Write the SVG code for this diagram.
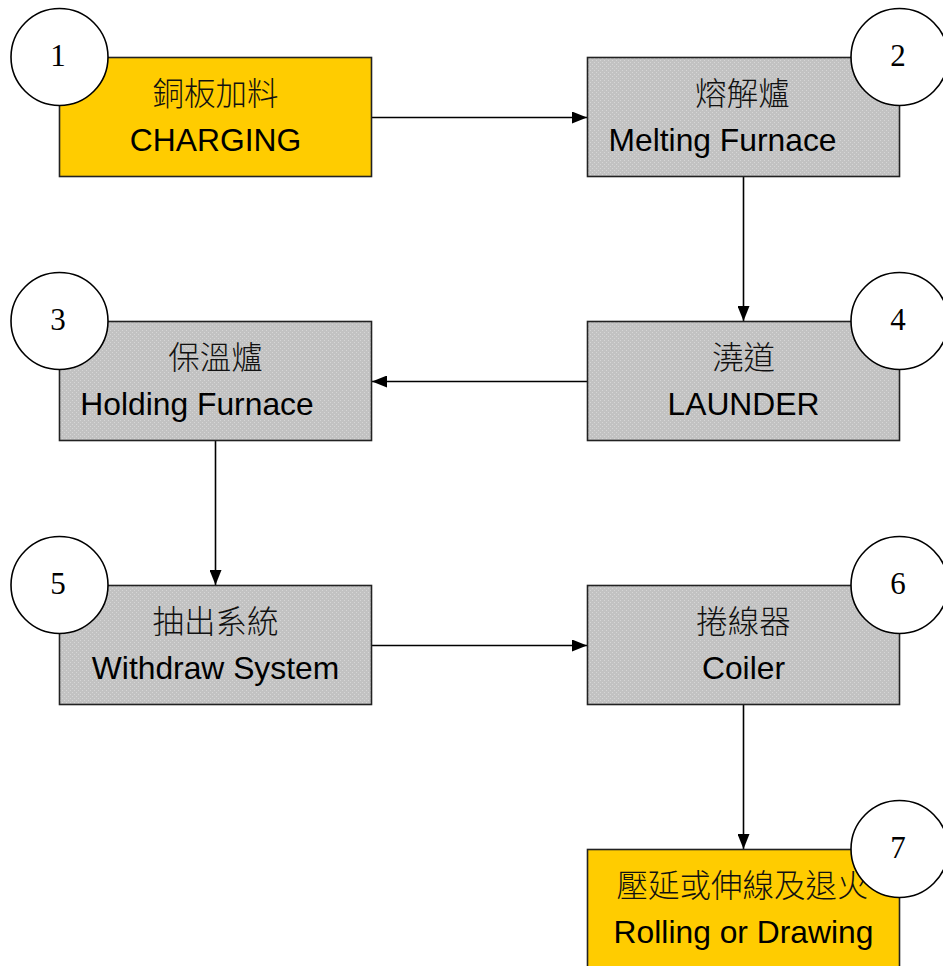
<svg xmlns="http://www.w3.org/2000/svg" width="943" height="966" viewBox="0 0 943 966">
<defs>
<style>
.box{stroke:#222;stroke-width:1.6}
.y{fill:#ffcc00}
.g{fill:url(#tex)}
.cjk{font-family:"Noto Sans CJK TC","Noto Sans CJK SC",sans-serif;font-size:31.5px;font-weight:300;fill:#111;text-anchor:middle}
.en{font-family:"Liberation Sans",Arial,sans-serif;font-size:31.8px;fill:#000;text-anchor:middle}
.num{fill:#fff;stroke:#000;stroke-width:1.6}
.nt{font-family:"Liberation Serif","Times New Roman",serif;font-size:31px;fill:#000;text-anchor:middle}
.con{stroke:#000;stroke-width:1.6;fill:none;marker-end:url(#ah)}
</style>
<pattern id="tex" width="4" height="4" patternUnits="userSpaceOnUse">
<rect width="4" height="4" fill="#c2c2c2"/>
<rect x="0" y="0" width="1" height="1" fill="#d6d6d6"/>
<rect x="2" y="2" width="1" height="1" fill="#d6d6d6"/>
</pattern>
<marker id="ah" markerWidth="15" markerHeight="12" refX="15" refY="6" orient="auto" markerUnits="userSpaceOnUse">
<path d="M0,0 L15,6 L0,12 Z" fill="#000"/>
</marker>
</defs>
<rect width="943" height="966" fill="#fff"/>

<g id="connectors">
<line class="con" x1="372" y1="117.5" x2="587" y2="117.5"/>
<line class="con" x1="743.5" y1="177" x2="743.5" y2="321"/>
<line class="con" x1="587" y1="381.5" x2="372" y2="381.5"/>
<line class="con" x1="215.5" y1="441" x2="215.5" y2="585"/>
<line class="con" x1="372" y1="645.5" x2="587" y2="645.5"/>
<line class="con" x1="743.5" y1="705" x2="743.5" y2="849"/>
</g>

<g id="n1">
<rect class="box y" x="59.5" y="57.5" width="312" height="119"/>
<text class="cjk" x="215.5" y="105">銅板加料</text>
<text class="en" x="215.5" y="151">CHARGING</text>
<circle class="num" cx="59.5" cy="57" r="48.5"/>
<text class="nt" x="58" y="66">1</text>
</g>

<g id="n2">
<rect class="box g" x="587.5" y="57.5" width="312" height="119"/>
<text class="cjk" x="742.5" y="105">熔解爐</text>
<text class="en" x="722.5" y="151">Melting Furnace</text>
<circle class="num" cx="899.5" cy="57" r="48.5"/>
<text class="nt" x="898" y="66">2</text>
</g>

<g id="n3">
<rect class="box g" x="59.5" y="321.5" width="312" height="119"/>
<text class="cjk" x="215.5" y="369">保溫爐</text>
<text class="en" x="197" y="415">Holding Furnace</text>
<circle class="num" cx="59.5" cy="321" r="48.5"/>
<text class="nt" x="58" y="330">3</text>
</g>

<g id="n4">
<rect class="box g" x="587.5" y="321.5" width="312" height="119"/>
<text class="cjk" x="743.5" y="369">澆道</text>
<text class="en" x="743.5" y="415">LAUNDER</text>
<circle class="num" cx="899.5" cy="321" r="48.5"/>
<text class="nt" x="898" y="330">4</text>
</g>

<g id="n5">
<rect class="box g" x="59.5" y="585.5" width="312" height="119"/>
<text class="cjk" x="215.5" y="633">抽出系統</text>
<text class="en" x="215.5" y="679">Withdraw System</text>
<circle class="num" cx="59.5" cy="585" r="48.5"/>
<text class="nt" x="58" y="594">5</text>
</g>

<g id="n6">
<rect class="box g" x="587.5" y="585.5" width="312" height="119"/>
<text class="cjk" x="743.5" y="633">捲線器</text>
<text class="en" x="743.5" y="679">Coiler</text>
<circle class="num" cx="899.5" cy="585" r="48.5"/>
<text class="nt" x="898" y="594">6</text>
</g>

<g id="n7">
<rect class="box y" x="587.5" y="849.5" width="312" height="119"/>
<text class="cjk" x="742.5" y="897">壓延或伸線及退火</text>
<text class="en" x="743.5" y="943">Rolling or Drawing</text>
<circle class="num" cx="899.5" cy="849" r="48.5"/>
<text class="nt" x="898" y="858">7</text>
</g>
</svg>
